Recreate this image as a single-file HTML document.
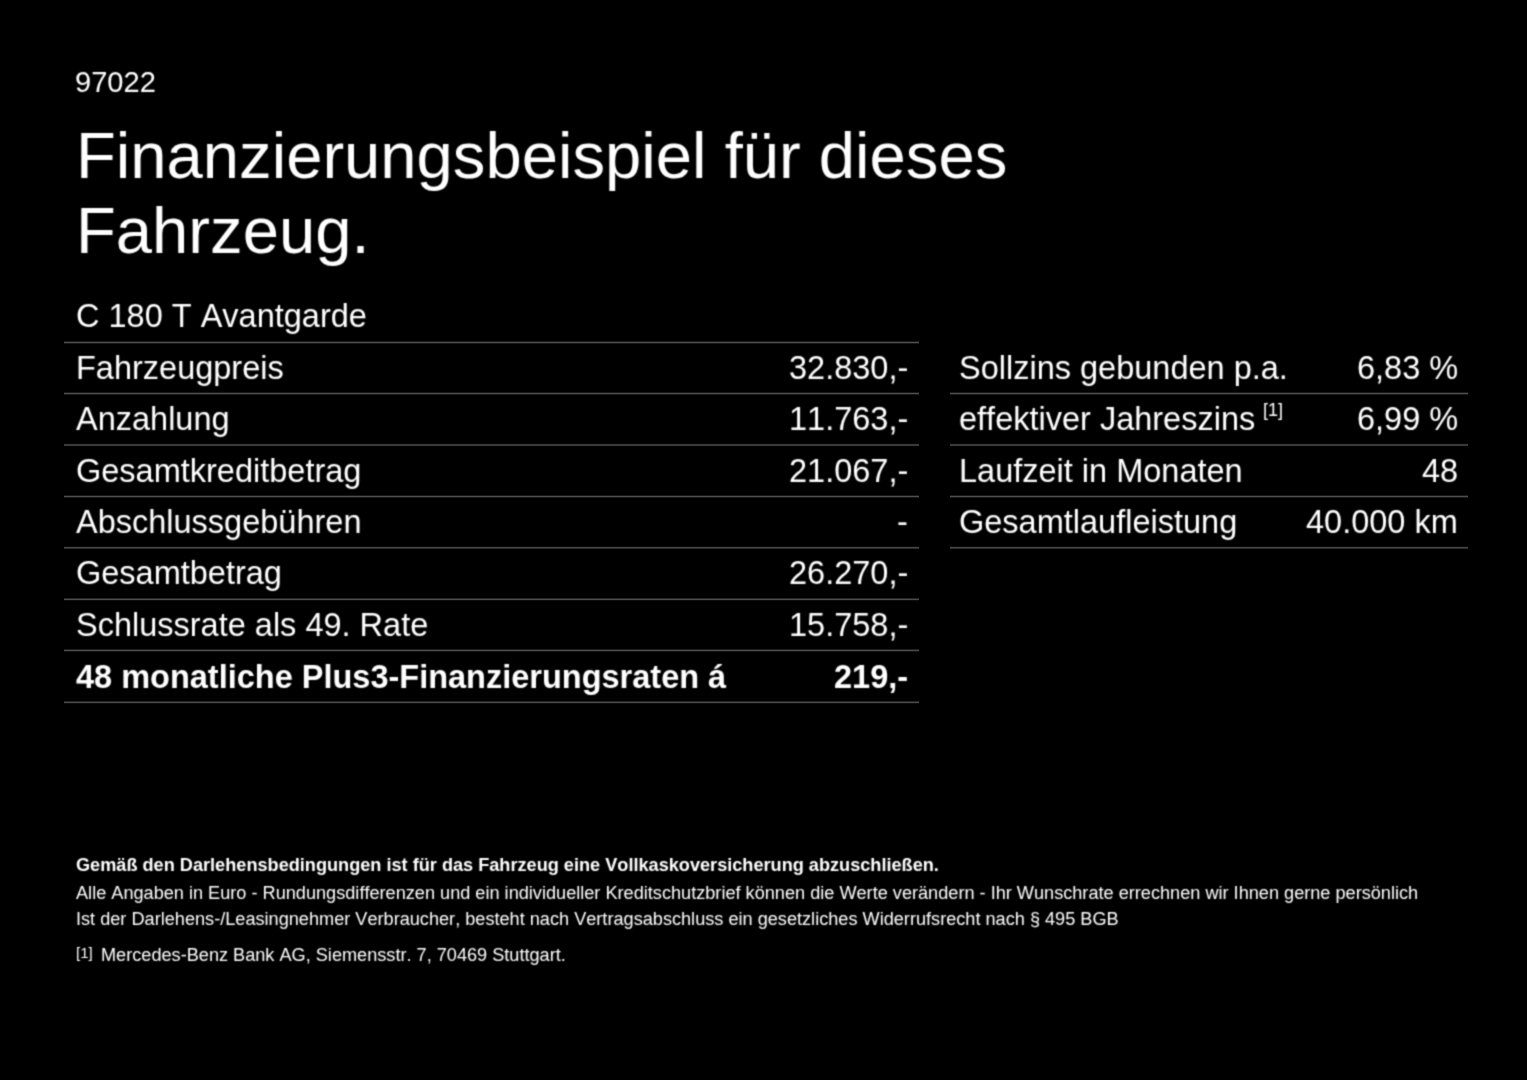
<!DOCTYPE html>
<html lang="de"><head><meta charset="utf-8"><title>Finanzierungsbeispiel</title>
<style>
html,body{margin:0;padding:0;background:#000;}
body{width:1527px;height:1080px;overflow:hidden;position:relative;color:#fff;-webkit-font-smoothing:antialiased;font-family:"Liberation Sans",Arial,Helvetica,sans-serif;}
.t{position:absolute;white-space:nowrap;font-kerning:none;will-change:transform;filter:url(#soft);}
.l{position:absolute;}
h1,p{margin:0;font-size:inherit;font-weight:inherit;}
</style></head><body>
<svg width="0" height="0" style="position:absolute"><defs><filter id="soft" x="-5%" y="-20%" width="110%" height="140%" color-interpolation-filters="sRGB"><feConvolveMatrix order="3" kernelMatrix="1 3 1 3 9 3 1 3 1" divisor="25" preserveAlpha="false" edgeMode="none"/></filter></defs></svg>
<header>
<p class="t" style="left:75.4px;top:64.75px;font-size:29.1px;line-height:34.92px;font-weight:400;">97022</p>
<h1>
<span class="t" style="left:76px;top:116.58px;font-size:65.2px;line-height:78.24px;font-weight:400;">Finanzierungsbeispiel für dieses</span>
<span class="t" style="left:76px;top:192.18px;font-size:65.2px;line-height:78.24px;font-weight:400;">Fahrzeug.</span>
</h1>
</header>
<section class="finance">
<div class="tbl-left">
<div class="t" style="left:75.5px;top:296.76px;font-size:32.5px;line-height:39.0px;font-weight:400;">C 180 T Avantgarde</div>
<div class="t" style="left:75.5px;top:348.93px;font-size:32.5px;line-height:39.0px;font-weight:400;">Fahrzeugpreis</div>
<div class="t" style="right:618.70px;text-align:right;top:348.93px;font-size:32.5px;line-height:39.0px;font-weight:400;">32.830,-</div>
<div class="t" style="left:75.5px;top:400.30px;font-size:32.5px;line-height:39.0px;font-weight:400;">Anzahlung</div>
<div class="t" style="right:618.70px;text-align:right;top:400.30px;font-size:32.5px;line-height:39.0px;font-weight:400;">11.763,-</div>
<div class="t" style="left:75.5px;top:451.67px;font-size:32.5px;line-height:39.0px;font-weight:400;">Gesamtkreditbetrag</div>
<div class="t" style="right:618.70px;text-align:right;top:451.67px;font-size:32.5px;line-height:39.0px;font-weight:400;">21.067,-</div>
<div class="t" style="left:75.5px;top:503.04px;font-size:32.5px;line-height:39.0px;font-weight:400;">Abschlussgebühren</div>
<div class="t" style="right:618.70px;text-align:right;top:503.04px;font-size:32.5px;line-height:39.0px;font-weight:400;">-</div>
<div class="t" style="left:75.5px;top:554.41px;font-size:32.5px;line-height:39.0px;font-weight:400;">Gesamtbetrag</div>
<div class="t" style="right:618.70px;text-align:right;top:554.41px;font-size:32.5px;line-height:39.0px;font-weight:400;">26.270,-</div>
<div class="t" style="left:75.5px;top:605.78px;font-size:32.5px;line-height:39.0px;font-weight:400;">Schlussrate als 49. Rate</div>
<div class="t" style="right:618.70px;text-align:right;top:605.78px;font-size:32.5px;line-height:39.0px;font-weight:400;">15.758,-</div>
<div class="t" style="left:75.5px;top:658.15px;font-size:32.5px;line-height:39.0px;font-weight:700;">48 monatliche Plus3-Finanzierungsraten á</div>
<div class="t" style="right:618.70px;text-align:right;top:658.15px;font-size:32.5px;line-height:39.0px;font-weight:700;">219,-</div>
<div class="l" style="left:64px;top:341px;width:854.50px;height:1px;background:rgb(24,24,24)"></div>
<div class="l" style="left:64px;top:342px;width:854.50px;height:1px;background:rgb(79,79,79)"></div>
<div class="l" style="left:64px;top:343px;width:854.50px;height:1px;background:rgb(24,24,24)"></div>
<div class="l" style="left:64px;top:392px;width:854.50px;height:1px;background:rgb(24,24,24)"></div>
<div class="l" style="left:64px;top:393px;width:854.50px;height:1px;background:rgb(79,79,79)"></div>
<div class="l" style="left:64px;top:394px;width:854.50px;height:1px;background:rgb(24,24,24)"></div>
<div class="l" style="left:64px;top:443px;width:854.50px;height:1px;background:rgb(5,5,5)"></div>
<div class="l" style="left:64px;top:444px;width:854.50px;height:1px;background:rgb(58,58,58)"></div>
<div class="l" style="left:64px;top:445px;width:854.50px;height:1px;background:rgb(58,58,58)"></div>
<div class="l" style="left:64px;top:446px;width:854.50px;height:1px;background:rgb(5,5,5)"></div>
<div class="l" style="left:64px;top:495px;width:854.50px;height:1px;background:rgb(24,24,24)"></div>
<div class="l" style="left:64px;top:496px;width:854.50px;height:1px;background:rgb(79,79,79)"></div>
<div class="l" style="left:64px;top:497px;width:854.50px;height:1px;background:rgb(24,24,24)"></div>
<div class="l" style="left:64px;top:546px;width:854.50px;height:1px;background:rgb(11,11,11)"></div>
<div class="l" style="left:64px;top:547px;width:854.50px;height:1px;background:rgb(71,71,71)"></div>
<div class="l" style="left:64px;top:548px;width:854.50px;height:1px;background:rgb(44,44,44)"></div>
<div class="l" style="left:64px;top:598px;width:854.50px;height:1px;background:rgb(37,37,37)"></div>
<div class="l" style="left:64px;top:599px;width:854.50px;height:1px;background:rgb(75,75,75)"></div>
<div class="l" style="left:64px;top:600px;width:854.50px;height:1px;background:rgb(14,14,14)"></div>
<div class="l" style="left:64px;top:649px;width:854.50px;height:1px;background:rgb(30,30,30)"></div>
<div class="l" style="left:64px;top:650px;width:854.50px;height:1px;background:rgb(78,78,78)"></div>
<div class="l" style="left:64px;top:651px;width:854.50px;height:1px;background:rgb(19,19,19)"></div>
<div class="l" style="left:64px;top:701px;width:854.50px;height:1px;background:rgb(37,37,37)"></div>
<div class="l" style="left:64px;top:702px;width:854.50px;height:1px;background:rgb(75,75,75)"></div>
<div class="l" style="left:64px;top:703px;width:854.50px;height:1px;background:rgb(14,14,14)"></div>
</div>
<div class="tbl-right">
<div class="t" style="left:959.3px;top:348.93px;font-size:32.5px;line-height:39.0px;font-weight:400;">Sollzins gebunden p.a.</div>
<div class="t" style="right:69.20px;text-align:right;top:348.93px;font-size:32.5px;line-height:39.0px;font-weight:400;">6,83 %</div>
<div class="l" style="left:949.6px;top:392px;width:518.60px;height:1px;background:rgb(24,24,24)"></div>
<div class="l" style="left:949.6px;top:393px;width:518.60px;height:1px;background:rgb(79,79,79)"></div>
<div class="l" style="left:949.6px;top:394px;width:518.60px;height:1px;background:rgb(24,24,24)"></div>
<div class="t" style="left:959.3px;top:400.30px;font-size:32.5px;line-height:39.0px;font-weight:400;">effektiver Jahreszins</div>
<div class="t" style="right:69.20px;text-align:right;top:400.30px;font-size:32.5px;line-height:39.0px;font-weight:400;">6,99 %</div>
<div class="l" style="left:949.6px;top:443px;width:518.60px;height:1px;background:rgb(5,5,5)"></div>
<div class="l" style="left:949.6px;top:444px;width:518.60px;height:1px;background:rgb(58,58,58)"></div>
<div class="l" style="left:949.6px;top:445px;width:518.60px;height:1px;background:rgb(58,58,58)"></div>
<div class="l" style="left:949.6px;top:446px;width:518.60px;height:1px;background:rgb(5,5,5)"></div>
<div class="t" style="left:959.3px;top:451.67px;font-size:32.5px;line-height:39.0px;font-weight:400;">Laufzeit in Monaten</div>
<div class="t" style="right:69.20px;text-align:right;top:451.67px;font-size:32.5px;line-height:39.0px;font-weight:400;">48</div>
<div class="l" style="left:949.6px;top:495px;width:518.60px;height:1px;background:rgb(24,24,24)"></div>
<div class="l" style="left:949.6px;top:496px;width:518.60px;height:1px;background:rgb(79,79,79)"></div>
<div class="l" style="left:949.6px;top:497px;width:518.60px;height:1px;background:rgb(24,24,24)"></div>
<div class="t" style="left:959.3px;top:503.04px;font-size:32.5px;line-height:39.0px;font-weight:400;">Gesamtlaufleistung</div>
<div class="t" style="right:69.20px;text-align:right;top:503.04px;font-size:32.5px;line-height:39.0px;font-weight:400;">40.000 km</div>
<div class="l" style="left:949.6px;top:546px;width:518.60px;height:1px;background:rgb(11,11,11)"></div>
<div class="l" style="left:949.6px;top:547px;width:518.60px;height:1px;background:rgb(71,71,71)"></div>
<div class="l" style="left:949.6px;top:548px;width:518.60px;height:1px;background:rgb(44,44,44)"></div>
<div class="t" style="left:1262.5px;top:400.43px;font-size:18px;line-height:21.6px;font-weight:400;">[1]</div>
</div>
</section>
<footer>
<div class="t" style="left:75.5px;top:854.92px;font-size:18.15px;line-height:21.78px;font-weight:700;">Gemäß den Darlehensbedingungen ist für das Fahrzeug eine Vollkaskoversicherung abzuschließen.</div>
<div class="t" style="left:75.5px;top:883.42px;font-size:18.15px;line-height:21.78px;font-weight:400;">Alle Angaben in Euro - Rundungsdifferenzen und ein individueller Kreditschutzbrief können die Werte verändern - Ihr Wunschrate errechnen wir Ihnen gerne persönlich</div>
<div class="t" style="left:75.5px;top:909.22px;font-size:18.15px;line-height:21.78px;font-weight:400;">Ist der Darlehens-/Leasingnehmer Verbraucher, besteht nach Vertragsabschluss ein gesetzliches Widerrufsrecht nach § 495 BGB</div>
<div class="t" style="left:75.5px;top:944.40px;font-size:15px;line-height:18.0px;font-weight:400;">[1]</div>
<div class="t" style="left:100.5px;top:945.32px;font-size:18.15px;line-height:21.78px;font-weight:400;">Mercedes-Benz Bank AG, Siemensstr. 7, 70469 Stuttgart.</div>
</footer>
</body></html>
